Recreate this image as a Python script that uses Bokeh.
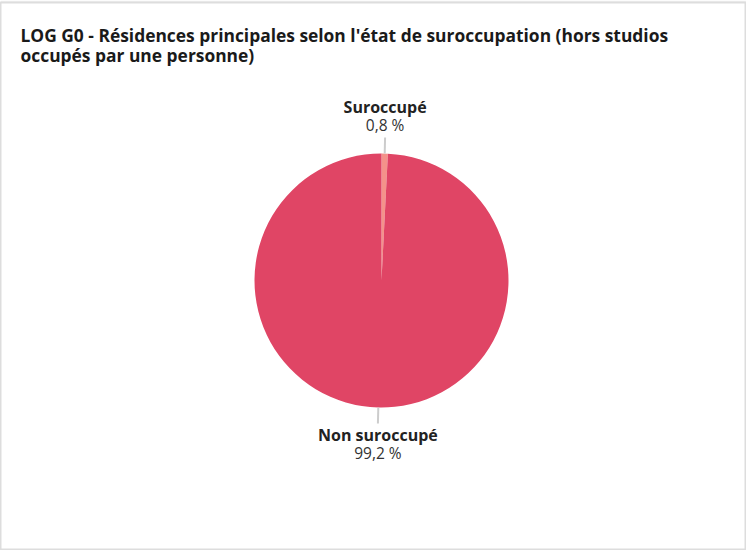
import math
from bokeh.plotting import figure
from bokeh.models import Range1d, Label, ColumnDataSource
from bokeh.embed import file_html
from bokeh.resources import INLINE

# ---- data ----
categories = ["Suroccupé", "Non suroccupé"]
values = [0.8, 99.2]
value_labels = ["0,8 %", "99,2 %"]
colors = ["#f4928a", "#e04565"]
title_lines = [
    "LOG G0 - Résidences principales selon l'état de suroccupation (hors studios",
    "occupés par une personne)",
]

W, H = 746, 550
TOP = 2
p = figure(width=W, height=H, output_backend="svg", toolbar_location=None,
           min_border_left=0, min_border_right=0, min_border_top=TOP, min_border_bottom=0,
           x_range=Range1d(0, W), y_range=Range1d(0, H - TOP))
p.border_fill_color = "#f2f2f2"
p.background_fill_color = "#ffffff"
p.outline_line_color = "#dddddd"
p.outline_line_width = 2
p.axis.visible = False
p.grid.visible = False

# page coords -> data coords
def dx(px):
    return px - 8
def dy(py):
    return 558 - py

cx, cy, r = dx(389), dy(288), 127

total = sum(values)
starts, ends, mids = [], [], []
a = math.pi / 2
for v in values:
    sweep = v / total * 2 * math.pi
    starts.append(a)
    ends.append(a - sweep)
    mids.append(a - sweep / 2)
    a -= sweep

src = ColumnDataSource(dict(start=starts, end=ends, color=colors))
p.wedge(x=cx, y=cy, radius=r, start_angle="start", end_angle="end", direction="clock",
        fill_color="color", line_color=None, source=src)

# leader lines and labels
xs, ys = [], []
for name, lab, m in zip(categories, value_labels, mids):
    x0 = cx + r * math.cos(m)
    y0 = cy + r * math.sin(m)
    x1 = cx + (r + 16) * math.cos(m)
    y1 = cy + (r + 16) * math.sin(m)
    xs.append([x0, x1]); ys.append([y0, y1])
    if math.sin(m) > 0:
        ny, vy = y1 + 31, y1 + 13
    else:
        ny, vy = y1 - 12, y1 - 30
    p.add_layout(Label(x=x1, y=ny, text=name, text_align="center", text_baseline="middle",
                       text_font="Open Sans", text_font_style="bold", text_font_size="16px",
                       text_color="#222222"))
    p.add_layout(Label(x=x1, y=vy, text=lab, text_align="center", text_baseline="middle",
                       text_font="Open Sans", text_font_size="15.5px", text_color="#333333"))
p.multi_line(xs=xs, ys=ys, line_color="#cccccc", line_width=2)

for i, t in enumerate(title_lines):
    p.add_layout(Label(x=dx(28), y=dy(42 + 20 * i), text=t, text_align="left",
                       text_baseline="middle", text_font="Open Sans", text_font_style="bold",
                       text_font_size="17.4px", text_color="#1a1a1a"))

open("out.html", "w").write(file_html(p, INLINE))
